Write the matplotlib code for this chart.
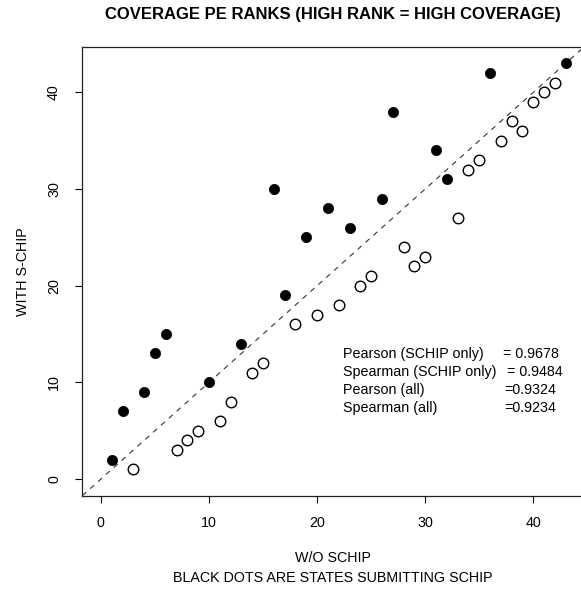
import matplotlib
matplotlib.use("Agg")
import matplotlib.pyplot as plt

# ranks without s-chip (x) and with s-chip (y)
schip_wo = [1, 2, 4, 5, 6, 10, 13, 16, 17, 19, 21, 23, 26, 27, 31, 32, 36, 43]
schip_with = [2, 7, 9, 13, 15, 10, 14, 30, 19, 25, 28, 26, 29, 38, 34, 31, 42, 43]

other_wo = [3, 7, 8, 9, 11, 12, 14, 15, 18, 20, 22, 24, 25, 28, 29, 30, 33, 34,
            35, 37, 38, 39, 40, 41, 42]
other_with = [1, 3, 4, 5, 6, 8, 11, 12, 16, 17, 18, 20, 21, 24, 22, 23, 27, 32,
              33, 35, 37, 36, 39, 40, 41]

stat_names = ["Pearson (SCHIP only)", "Spearman (SCHIP only)", "Pearson (all)", "Spearman (all)"]
stat_values = ["= 0.9678", "= 0.9484", "=0.9324", "=0.9234"]

ticks = [0, 10, 20, 30, 40]

plt.rcParams["font.family"] = ["Liberation Sans", "DejaVu Sans"]
plt.rcParams["font.size"] = 10.3
plt.rcParams["lines.scale_dashes"] = False

fig = plt.figure(figsize=(5.81, 5.90), dpi=100)
# axes run a little past the right edge, like the cropped original
ax = fig.add_axes([82.3 / 581, (590 - 495.7) / 590, 502 / 581, 449 / 590])

ax.axline((0, 0), slope=1, color="#333333", lw=0.8, dashes=(3.8, 3.8))
ax.plot(other_wo, other_with, "o", ms=7.6, mfc="white", mec="black", mew=1.0, ls="none")
ax.plot(schip_wo, schip_with, "o", ms=7.4, mfc="black", mec="black", mew=0.5, ls="none")

ax.set_xlim(-1.72, 44.72)
ax.set_ylim(-1.72, 44.72)
ax.set_xticks(ticks)
ax.set_yticks(ticks)
ax.tick_params(direction="out", length=5.3, width=0.8, colors="black")
ax.tick_params(axis="x", pad=9.5)
ax.tick_params(axis="y", pad=10, labelrotation=90)
for lab in ax.get_yticklabels():
    lab.set_va("center")
for sp in ax.spines.values():
    sp.set_linewidth(0.9)
    sp.set_color("#222222")

ax.set_xlabel("W/O SCHIP\nBLACK DOTS ARE STATES SUBMITTING SCHIP", labelpad=15, linespacing=1.55)
ax.set_ylabel("WITH S-CHIP", labelpad=12.5)
ax.set_title("COVERAGE PE RANKS (HIGH RANK = HIGH COVERAGE)", fontsize=12, fontweight="bold", pad=19.7)

ys = [12.95, 11.05, 9.2, 7.35]
xs = [37.23, 37.54, 37.32, 37.32]
for name, val, y, xv in zip(stat_names, stat_values, ys, xs):
    ax.text(22.4, y, name, va="center", ha="left")
    ax.text(xv, y, val, va="center", ha="left")

fig.savefig("out.png", dpi=100)
